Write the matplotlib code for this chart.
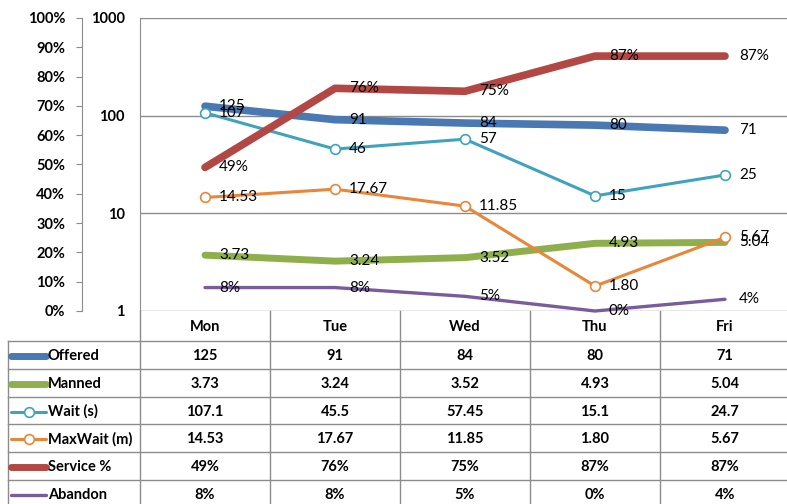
import matplotlib
matplotlib.use("Agg")
import matplotlib.pyplot as plt
from matplotlib.lines import Line2D
import numpy as np

# Data
days = ["Mon", "Tue", "Wed", "Thu", "Fri"]
offered = [125, 91, 84, 80, 71]
manned = [3.73, 3.24, 3.52, 4.93, 5.04]
wait_s = [107.1, 45.5, 57.45, 15.1, 24.7]
maxwait_m = [14.53, 17.67, 11.85, 1.80, 5.67]
service_pct = [0.49, 0.76, 0.75, 0.87, 0.87]
abandon_pct = [0.08, 0.08, 0.05, 0.00, 0.04]

log_ticks = [1, 10, 100, 1000]
pct_ticks = np.arange(0, 1.01, 0.1)

BLUE = "#4A78B2"
GREEN = "#8FAF4C"
AQUA = "#3FA3BF"
ORANGE = "#E8863A"
RED = "#B24743"
PURPLE = "#7A5C9C"
GRID = "#8C8C8C"

plt.rcParams['font.family'] = ['Lato', 'DejaVu Sans']

W, H = 787, 504
fig = plt.figure(figsize=(W / 100, H / 100), dpi=100)

# plot area in pixels
left_px, top_px, bottom_px = 140, 18, 311
col_w = 130
ax_pos = [left_px / W, (H - bottom_px) / H, 5 * col_w / W, (bottom_px - top_px) / H]

x = np.arange(len(days))

# --- log axis (counts / times) ---
ax = fig.add_axes(ax_pos)
ax.set_yscale('log')
ax.set_ylim(1, 1000)
ax.set_xlim(-0.5, len(days) - 0.5)
ax.set_yticks(log_ticks)
ax.set_yticklabels([str(t) for t in log_ticks])
ax.yaxis.set_minor_locator(matplotlib.ticker.NullLocator())
ax.tick_params(axis='y', length=0, pad=11, labelsize=10.5)
ax.set_xticks([])
for lab in ax.get_yticklabels():
    lab.set_fontweight('bold')
ax.grid(axis='y', color=GRID, lw=1)
for s in ['top', 'right', 'bottom']:
    ax.spines[s].set_visible(False)
ax.spines['left'].set_color(GRID)
ax.set_facecolor('none')

ax.plot(x, offered, color=BLUE, lw=5.5, solid_capstyle='round', zorder=3)
ax.plot(x, manned, color=GREEN, lw=5, solid_capstyle='round', zorder=3)
ax.plot(x, wait_s, color=AQUA, lw=2.2, marker='o', ms=7, mfc='white',
        mec=AQUA, mew=1.2, zorder=4)
ax.plot(x, maxwait_m, color=ORANGE, lw=2.2, marker='o', ms=7, mfc='white',
        mec=ORANGE, mew=1.2, zorder=4)

# --- percent axis ---
axp = fig.add_axes(ax_pos)
axp.set_facecolor('none')
axp.set_ylim(0, 1)
axp.set_xlim(-0.5, len(days) - 0.5)
axp.set_yticks(pct_ticks)
axp.set_yticklabels([f"{int(round(t * 100))}%" for t in pct_ticks])
axp.set_xticks([])
for s in ['top', 'right', 'bottom']:
    axp.spines[s].set_visible(False)
axp.spines['left'].set_position(('outward', 58 * 0.72))
axp.spines['left'].set_color(GRID)
axp.tick_params(axis='y', direction='out', length=4, color=GRID, pad=8, labelsize=10.5)
for lab in axp.get_yticklabels():
    lab.set_fontweight('bold')

axp.plot(x, service_pct, color=RED, lw=5.5, solid_capstyle='round', zorder=3)
axp.plot(x, abandon_pct, color=PURPLE, lw=2.4, solid_capstyle='round', zorder=3,
         clip_on=False)

# data labels to the right of each point
def label_series(a, vals, fmt):
    for xi, v in zip(x, vals):
        a.annotate(fmt(v), (xi, v), xytext=(10, 0), textcoords='offset points',
                   va='center', ha='left', fontsize=11, color='black',
                   zorder=6, annotation_clip=False)

label_series(ax, offered, lambda v: f"{v:.0f}")
label_series(ax, manned, lambda v: f"{v:.2f}")
label_series(ax, wait_s, lambda v: f"{v:.0f}")
label_series(ax, maxwait_m, lambda v: f"{v:.2f}")
label_series(axp, service_pct, lambda v: f"{v * 100:.0f}%")
label_series(axp, abandon_pct, lambda v: f"{v * 100:.0f}%")

# --- data table under the plot ---
tab = fig.add_axes([0, 0, 1, 1])
tab.set_xlim(0, W)
tab.set_ylim(H, 0)
tab.axis('off')
tab.set_zorder(-1)

rows = [
    ("Offered", offered, lambda v: f"{v:.0f}", BLUE, 5, None),
    ("Manned", manned, lambda v: f"{v:.2f}", GREEN, 5, None),
    ("Wait (s)", wait_s, lambda v: f"{v:g}", AQUA, 2.2, 'o'),
    ("MaxWait (m)", maxwait_m, lambda v: f"{v:.2f}", ORANGE, 2.2, 'o'),
    ("Service %", service_pct, lambda v: f"{v * 100:.0f}%", RED, 5, None),
    ("Abandon", abandon_pct, lambda v: f"{v * 100:.0f}%", PURPLE, 2.4, None),
]
header_bottom = 341
row_h = 27.8
table_left = 8
right_edge = left_px + 5 * col_w

# vertical column lines
for i in range(len(days) + 1):
    xc = left_px + i * col_w
    tab.plot([xc, xc], [bottom_px, H], color=GRID, lw=1)
tab.plot([table_left, table_left], [header_bottom, H], color=GRID, lw=1)

# header
for i, d in enumerate(days):
    tab.text(left_px + (i + 0.5) * col_w, (bottom_px + header_bottom) / 2 + 1, d,
             ha='center', va='center', fontsize=10.5, fontweight='bold')

for r, (name, vals, fmt, col, lw, mk) in enumerate(rows):
    y0 = header_bottom + r * row_h
    yc = y0 + row_h / 2 + 1
    tab.plot([table_left, right_edge], [y0, y0], color=GRID, lw=1)
    tab.add_line(Line2D([11, 46], [yc, yc], color=col, lw=lw,
                        solid_capstyle='round'))
    if mk:
        tab.plot([28.5], [yc], marker='o', ms=7, mfc='white', mec=col, mew=1.2)
    tab.text(48, yc, name, ha='left', va='center', fontsize=10.5, fontweight='bold')
    for i, v in enumerate(vals):
        tab.text(left_px + (i + 0.5) * col_w, yc, fmt(v), ha='center',
                 va='center', fontsize=10.5, fontweight='bold')

fig.savefig("out.png", dpi=100)
